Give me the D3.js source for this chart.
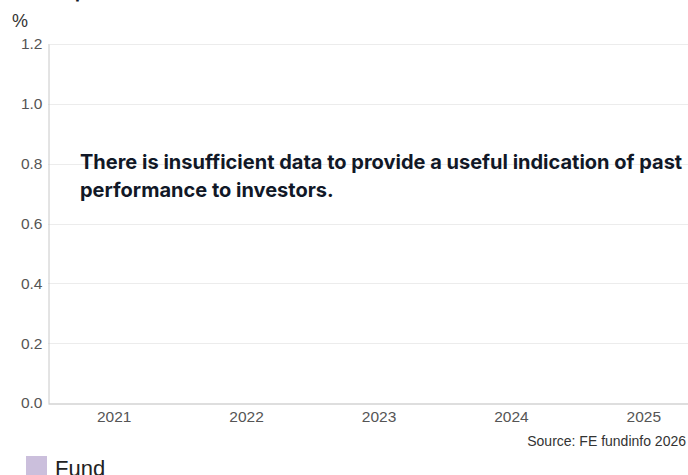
<!DOCTYPE html>
<html>
<head>
<meta charset="utf-8">
<script src="https://cdn.jsdelivr.net/npm/d3@7"></script>
<style>
  body { margin: 0; background: #fff; overflow: hidden; }
  svg { display: block; }
</style>
</head>
<body>
<svg id="chart" width="688" height="475"></svg>
<script>
const years = ["2021", "2022", "2023", "2024", "2025"];
const fundValues = [null, null, null, null, null];
const yTicks = [0, 0.2, 0.4, 0.6, 0.8, 1.0, 1.2];
const seriesNames = ["Fund"];
const seriesColors = ["#cbbfdc"];
const message = ["There is insufficient data to provide a useful indication of past", "performance to investors."];

const svg = d3.select("#chart");
const margin = { top: 44, left: 48 };

const x = d3.scaleBand().domain(years).range([margin.left, margin.left + 5 * 132.4]);
const y = d3.scaleLinear().domain([0, 1.2]).range([403, margin.top]);

// title, mostly above the viewport
svg.append("text")
    .attr("x", 27)
    .attr("y", -2)
    .attr("font-family", "Inter, sans-serif")
    .attr("font-weight", 700)
    .attr("font-size", 18)
    .attr("fill", "#111827")
    .text("Fund performance");

svg.append("text")
    .attr("x", 12)
    .attr("y", 27)
    .attr("font-family", "Liberation Sans, Arial, sans-serif")
    .attr("font-size", 18)
    .attr("fill", "#333")
    .text("%");

// gridlines
svg.append("g").selectAll("line")
    .data(yTicks.filter(d => d > 0))
    .join("line")
    .attr("x1", margin.left)
    .attr("x2", 688)
    .attr("y1", d => Math.round(y(d)) + 0.5)
    .attr("y2", d => Math.round(y(d)) + 0.5)
    .attr("stroke", "#ececec");

// y axis
const yAxis = svg.append("g")
    .attr("transform", `translate(${margin.left + 0.5},0)`)
    .call(d3.axisLeft(y).tickValues(yTicks).tickFormat(d3.format(".1f")).tickSize(0).tickPadding(6));
yAxis.select(".domain").attr("stroke", "#c8c8c8");
yAxis.selectAll("text")
    .attr("font-family", "Liberation Sans, Arial, sans-serif")
    .attr("font-size", 15.5)
    .attr("fill", "#555");

// x axis
const xAxis = svg.append("g")
    .attr("transform", `translate(0,${Math.round(y(0)) + 0.5})`)
    .call(d3.axisBottom(x).tickSize(0).tickPadding(7));
xAxis.select(".domain").attr("stroke", "#bdbdbd");
xAxis.selectAll("text")
    .attr("font-family", "Liberation Sans, Arial, sans-serif")
    .attr("font-size", 15.5)
    .attr("fill", "#555");

// bars (no data)
svg.append("g").selectAll("rect")
    .data(years.map((yr, i) => ({ yr, v: fundValues[i] })).filter(d => d.v != null))
    .join("rect")
    .attr("x", d => x(d.yr) + x.bandwidth() * 0.25)
    .attr("width", x.bandwidth() * 0.5)
    .attr("y", d => y(Math.max(0, d.v)))
    .attr("height", d => Math.abs(y(d.v) - y(0)))
    .attr("fill", seriesColors[0]);

// message
svg.append("text")
    .attr("x", 80)
    .attr("y", 169)
    .attr("font-family", "Inter, sans-serif")
    .attr("font-weight", 700)
    .attr("font-size", 20)
    .attr("fill", "#111827")
    .selectAll("tspan")
    .data(message)
    .join("tspan")
    .attr("x", 80)
    .attr("dy", (d, i) => i === 0 ? 0 : 28)
    .text(d => d);

svg.append("text")
    .attr("x", 686)
    .attr("y", 446)
    .attr("text-anchor", "end")
    .attr("font-family", "Liberation Sans, Arial, sans-serif")
    .attr("font-size", 14)
    .attr("fill", "#333")
    .text("Source: FE fundinfo 2026");

// legend
const legend = svg.append("g").selectAll("g")
    .data(seriesNames)
    .join("g")
    .attr("transform", "translate(26,456)");
legend.append("rect")
    .attr("width", 21)
    .attr("height", 21)
    .attr("fill", (d, i) => seriesColors[i]);
legend.append("text")
    .attr("x", 29)
    .attr("y", 20)
    .attr("font-family", "Liberation Sans, Arial, sans-serif")
    .attr("font-size", 22)
    .attr("fill", "#222")
    .text(d => d);
</script>
</body>
</html>
